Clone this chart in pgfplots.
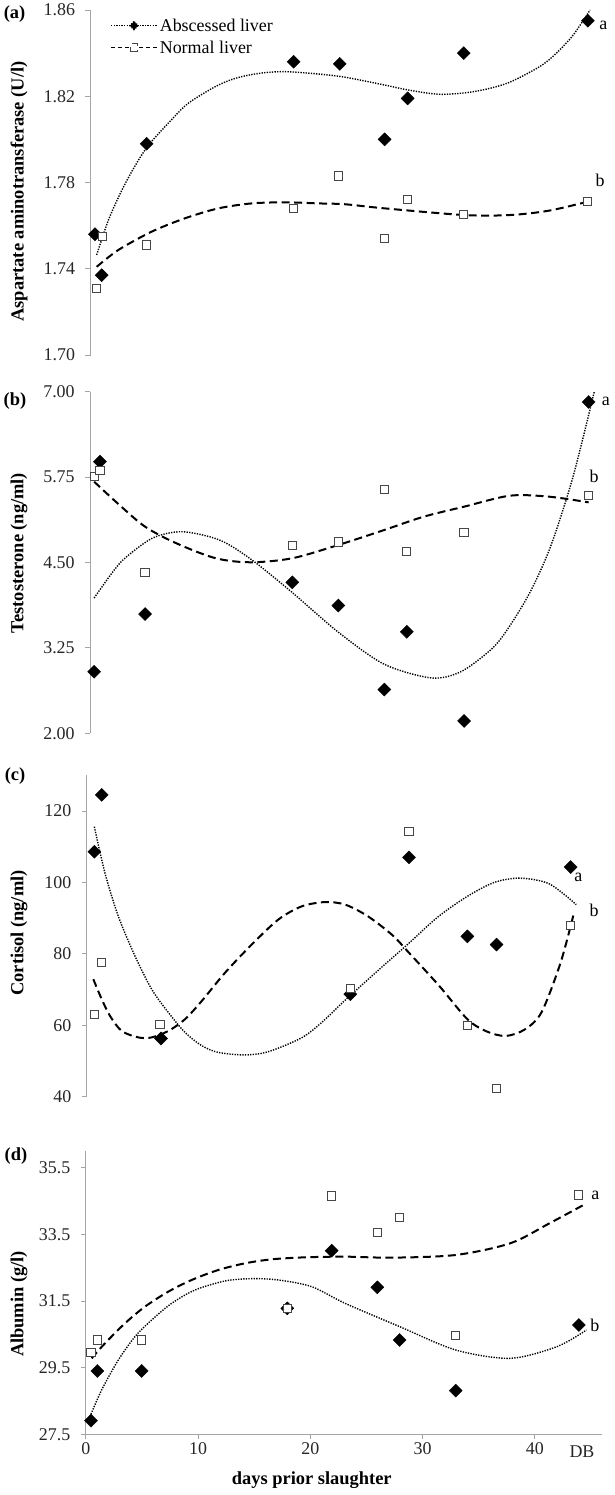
\documentclass[border=0pt]{standalone}
\usepackage{fontspec}
\setmainfont{Liberation Serif}
\usepackage{pgfplots}
\pgfplotsset{compat=1.18}

\definecolor{axgray}{RGB}{165,165,165}
\definecolor{sqgray}{RGB}{70,70,70}

\pgfplotsset{
  panel/.style={
    scale only axis, width=516.4bp, xmin=0, xmax=46,
    axis y line*=left,
    clip=false,
    axis line style={axgray, line width=1bp},
    tick align=outside,
    major tick length=5bp,
    tick style={axgray, line width=0.9bp},
    ticklabel style={font=\fontsize{18}{20}\selectfont, text=black!85},
    yticklabel style={xshift=-7bp},
    /pgf/number format/assume math mode=true,
  },
  noxaxis/.style={axis x line=none, xtick=\empty},
  abscessed/.style={only marks, mark=square*, mark size=4.6bp, mark options={rotate=45, fill=black, draw=black, line width=0.4bp}},
  normal/.style={only marks, mark=square*, mark size=4.1bp, mark options={fill=white, draw=sqgray, line width=1bp}},
  dotline/.style={black, line width=1.4bp, dash pattern=on 1.3bp off 1.3bp, smooth, no marks},
  dashline/.style={black, line width=2bp, dash pattern=on 8bp off 4.5bp, smooth, no marks},
}

\begin{document}
\begin{tikzpicture}
\path (0bp,0bp) rectangle (615bp,1495bp);

% ---------------- (a) ----------------
\begin{axis}[panel, noxaxis, at={(90.5bp,1140bp)}, anchor=south west, height=345bp,
  ymin=1.70, ymax=1.86, ytick={1.70,1.74,1.78,1.82,1.86},
  yticklabel style={/pgf/number format/.cd, fixed, fixed zerofill, precision=2},
  legend style={at={(axis cs:1.74,1.857)}, anchor=north west, draw=none, fill=none,
    inner sep=0pt, font=\fontsize{18}{20}\selectfont, row sep=4bp},
  legend cell align=left]
\addplot[dotline, legend image code/.code={
    \draw[black, line width=1.3bp, dash pattern=on 1.3bp off 1.3bp] (0bp,0bp) -- (46bp,0bp);
    \draw[mark=square*, mark size=2.8bp, mark options={rotate=45, fill=black, draw=black}] plot coordinates {(23bp,0bp)};
  }] coordinates {
  (0.55,1.7464) (1.6,1.7626) (2.8,1.7765) (4.0,1.7880) (5.2,1.7975) (7.2,1.8090)
  (8.7,1.8167) (11.1,1.8244) (12.9,1.8283) (15.0,1.8306) (17.3,1.8314) (20.3,1.8303)
  (22.7,1.8288) (26.2,1.8252) (28.3,1.8229) (31.1,1.8209) (34.1,1.8221) (37.1,1.8260)
  (40.0,1.8337) (41.5,1.8400) (43.0,1.8484) (44.5,1.8600)};
\addlegendentry{Abscessed liver}
\addplot[dashline, legend image code/.code={
    \draw[black, line width=1.6bp, dash pattern=on 4bp off 3bp] (0bp,0bp) -- (46bp,0bp);
    \draw[mark=square*, mark size=3.6bp, mark options={fill=white, draw=sqgray, line width=0.9bp}] plot coordinates {(23bp,0bp)};
  }] coordinates {
  (0.55,1.7409) (2.48,1.7487) (5.45,1.7572) (8.42,1.7634) (11.39,1.7680) (14.36,1.7703)
  (17.33,1.7708) (20.29,1.7703) (22.67,1.7699) (26.2,1.7680) (33.3,1.7649) (37.35,1.7649)
  (40.8,1.7669) (44.3,1.7711)};
\addlegendentry{Normal liver}
\addplot[abscessed, forget plot] coordinates {
  (0.4,1.756) (1.0,1.737) (5.0,1.798) (18.1,1.836) (22.2,1.835) (26.2,1.800) (28.25,1.819) (33.25,1.840) (44.3,1.855)};
\addplot[normal, forget plot] coordinates {
  (0.5,1.731) (1.05,1.755) (5.0,1.751) (18.1,1.768) (22.1,1.783) (26.2,1.754) (28.25,1.772) (33.25,1.765) (44.3,1.771)};
\end{axis}

% ---------------- (b) ----------------
\begin{axis}[panel, noxaxis, at={(90.2bp,761.7bp)}, anchor=south west, height=341.6bp,
  ymin=2, ymax=7, ytick={2,3.25,4.5,5.75,7},
  yticklabel style={/pgf/number format/.cd, fixed, fixed zerofill, precision=2}]
\addplot[dotline] coordinates {
  (0.35,3.98) (2.0,4.36) (3.14,4.57) (5.59,4.86) (8.2,4.95) (11.5,4.83) (14.3,4.55) (18.0,4.06)
  (22.1,3.48) (26.2,3.01) (30.4,2.81) (33.0,2.90) (35.6,3.21) (37.0,3.48) (39.1,4.04)
  (41.0,4.73) (43.0,5.75) (44.9,7.0)};
\addplot[dashline] coordinates {
  (0.35,5.683) (2.44,5.366) (4.89,5.024) (7.69,4.78) (11.18,4.562) (14.3,4.503) (18.0,4.562)
  (22.1,4.756) (26.2,4.976) (29.7,5.17) (33.3,5.317) (37.4,5.478) (40.9,5.463) (44.4,5.38)};
\addplot[abscessed] coordinates {
  (0.35,2.90) (0.87,5.975) (4.89,3.745) (18.0,4.21) (22.1,3.87) (26.2,2.64) (28.2,3.486) (33.3,2.18) (44.4,6.85)};
\addplot[normal] coordinates {
  (0.35,5.755) (0.87,5.843) (4.89,4.35) (18.0,4.745) (22.1,4.80) (26.2,5.571) (28.2,4.657) (33.3,4.94) (44.4,5.477)};
\end{axis}

% ---------------- (c) ----------------
\begin{axis}[panel, noxaxis, at={(86.8bp,398.3bp)}, anchor=south west, height=321.4bp,
  ymin=40, ymax=130, ytick={40,60,80,100,120}]
\addplot[dotline] coordinates {
  (0.67,115.6) (1.62,102.6) (2.81,90.5) (4.29,79.4) (5.78,70.1) (7.26,63.6) (8.75,58.0)
  (10.24,54.3) (11.71,52.4) (14.09,51.7) (16.17,52.6) (19.14,56.5) (21.0,61.0) (23.0,67.0)
  (26.0,75.5) (28.7,83.0) (31.3,90.4) (33.9,96.1) (36.3,100.0) (38.6,101.2) (41.2,99.6) (43.6,93.8)};
\addplot[dashline] coordinates {
  (0.58,72.9) (1.33,67.3) (2.07,62.6) (3.11,58.4) (4.59,56.6) (5.78,56.6) (7.26,58.4)
  (8.75,61.7) (10.24,66.8) (12.31,74.7) (14.69,82.6) (17.06,89.6) (19.14,93.3) (21.22,94.5)
  (23.0,93.8) (25.0,90.6) (27.2,85.3) (28.7,80.3) (31.4,71.0) (33.9,61.7) (35.6,58.3) (37.3,57.0)
  (39.0,58.8) (40.5,63.6) (42.2,77.5) (43.4,91.5)};
\addplot[abscessed] coordinates {
  (0.67,108.6) (1.33,124.5) (6.61,56.3) (23.47,68.7) (28.7,107.0) (33.9,84.9) (36.5,82.6) (43.1,104.3)};
\addplot[normal] coordinates {
  (0.67,63.1) (1.33,77.5) (6.52,60.3) (23.47,70.3) (28.7,114.2) (33.9,60.0) (36.5,42.2) (43.1,88.0)};
\end{axis}

% ---------------- (d) ----------------
\begin{axis}[panel, at={(85.8bp,60.7bp)}, anchor=south west, height=283.3bp,
  axis x line*=bottom,
  ymin=27.5, ymax=36, ytick={27.5,29.5,31.5,33.5,35.5},
  yticklabel style={/pgf/number format/.cd, fixed, fixed zerofill, precision=1},
  xtick={0,10,20,30,40}]
\addplot[dashline] coordinates {
  (0.52,29.78) (1.71,30.23) (3.49,30.83) (5.27,31.33) (7.35,31.78) (9.43,32.13) (11.8,32.43)
  (14.18,32.63) (16.56,32.75) (19.53,32.81) (23.09,32.83) (27.3,32.80) (32.95,32.88)
  (37.8,33.23) (41.3,33.83) (44.6,34.43)};
\addplot[dotline] coordinates {
  (0.37,28.03) (1.41,28.83) (2.9,29.73) (4.38,30.43) (5.87,30.93) (7.65,31.43) (9.73,31.83)
  (12.4,32.10) (14.78,32.17) (17.15,32.13) (20.12,31.93) (23.09,31.43) (27.96,30.73)
  (32.95,30.03) (37.8,29.78) (41.97,30.13) (44.6,30.63)};
\addplot[abscessed] coordinates {
  (0.46,27.91) (1.03,29.4) (4.98,29.4) (17.95,31.28) (21.9,33.01) (25.97,31.91) (27.96,30.33) (32.95,28.81) (43.92,30.78)};
\addplot[normal] coordinates {
  (0.46,29.95) (1.03,30.33) (4.98,30.33) (17.95,31.28) (21.9,34.65) (25.97,33.55) (27.96,34.0) (32.95,30.46) (43.92,34.68)};
\node[font=\fontsize{18}{20}\selectfont, text=black!85, anchor=north] at (axis cs:44.2,27.5) [yshift=-8bp] {DB};
\end{axis}

% ---------------- texts ----------------
\begin{scope}[font=\fontsize{18}{20}\selectfont]
\node at (603.3bp,1470bp) {a};
\node at (600bp,1315bp) {b};
\node at (605.9bp,1093.3bp) {a};
\node at (594bp,1018.3bp) {b};
\node at (578.4bp,617.7bp) {a};
\node at (594bp,585bp) {b};
\node at (595.3bp,299.3bp) {a};
\node at (594.9bp,170bp) {b};
\end{scope}
\begin{scope}[font=\bfseries\fontsize{18.5}{20}\selectfont]
\node at (14.5bp,1480.5bp) {(a)};
\node at (15bp,1094.2bp) {(b)};
\node at (15bp,719bp) {(c)};
\node at (16bp,339.2bp) {(d)};
\node[rotate=90] at (19bp,1303.5bp) {Aspartate aminotransferase (U/l)};
\node[rotate=90] at (19bp,942bp) {Testosterone (ng/ml)};
\node[rotate=90] at (19bp,562bp) {Cortisol (ng/ml)};
\node[rotate=90] at (19bp,191bp) {Albumin (g/l)};
\node at (311.8bp,15bp) {days prior slaughter};
\end{scope}
\end{tikzpicture}
\end{document}
